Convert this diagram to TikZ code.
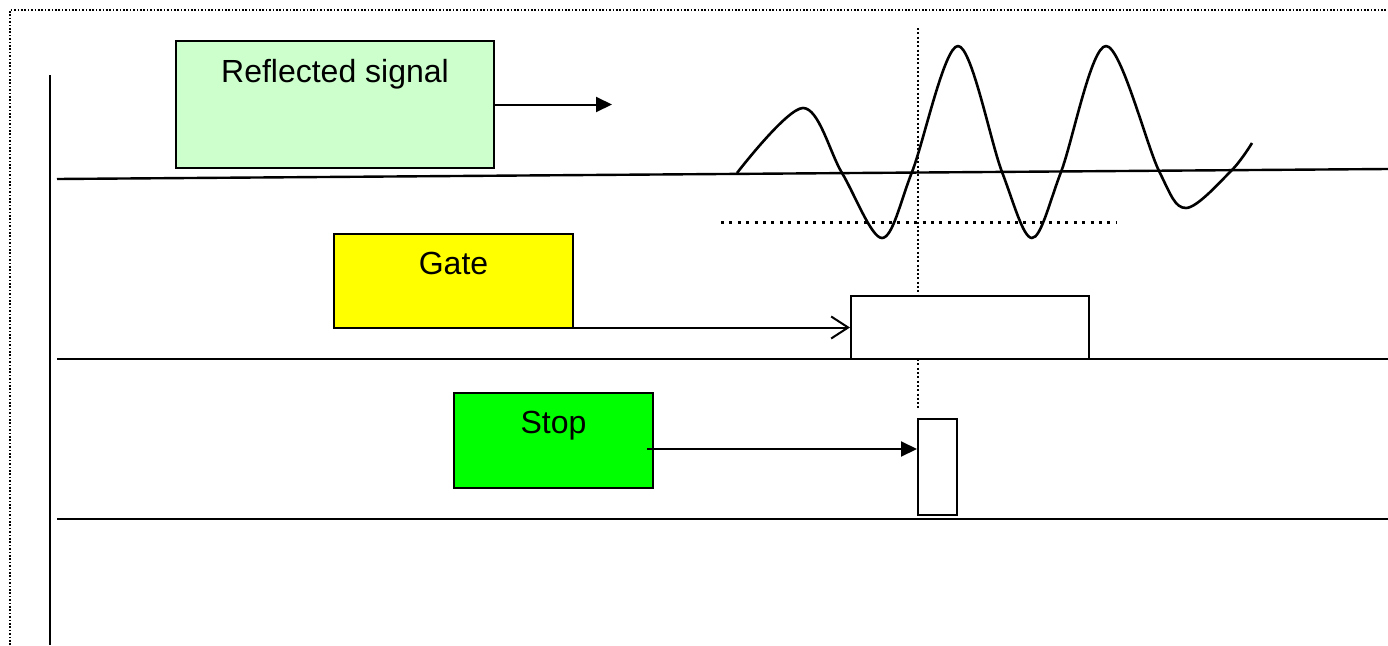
\documentclass[tikz,border=0pt]{standalone}
\usepackage{fontspec}
\setmainfont{Liberation Sans}
\usetikzlibrary{arrows.meta}
\definecolor{reflgreen}{HTML}{CCFFCC}
\definecolor{gateyellow}{HTML}{FFFF00}
\definecolor{stopgreen}{HTML}{00FF00}
\tikzset{
  block/.style  = {rectangle, draw, line width=2pt, inner xsep=0, inner ysep=0, text height=41pt, font=\fontsize{32}{38}\selectfont},
  pulse/.style  = {rectangle, draw, line width=2pt, fill=white, inner sep=0},
  axis/.style   = {line width=2.4pt},
  sig/.style    = {line width=2pt, -{Triangle[length=16pt, width=15pt]}},
  gsig/.style   = {line width=2pt, -{Straight Barb[length=17pt, width=22pt, line width=2pt]}},
  wave/.style   = {line width=2.6pt, line join=round},
  frame/.style  = {line width=1.6pt, dash pattern=on 1.6pt off 1.8pt},
  level/.style  = {line width=3pt, dash pattern=on 3pt off 5.4pt},
  marker/.style = {line width=2pt, dash pattern=on 2pt off 2.3pt}
}
\begin{document}
\begin{tikzpicture}[x=1pt, y=-1pt]
  \useasboundingbox (0,0) rectangle (1388,645);

  % ---------- frame and time axis ----------
  \draw[frame] (10,645) -- (10,10) -- (1388,10);
  \draw[axis] (50,75) -- (50,645);

  \coordinate (b1l) at (57,179);  \coordinate (b1r) at (1388,169);
  \coordinate (b2l) at (57,359);  \coordinate (b2r) at (1388,359);
  \coordinate (b3l) at (57,519);  \coordinate (b3r) at (1388,519);
  \draw[axis] (b1l) -- (b1r);
  \draw[axis] (b2l) -- (b2r);
  \draw[axis] (b3l) -- (b3r);

  % ---------- reflected signal ----------
  \node[block, fill=reflgreen, minimum width=318pt, text depth=86pt] (refl) at (335,104.5) {Reflected signal};
  \coordinate (reflend) at (612,104.5);
  \draw[sig] (refl.east) -- (reflend);

  \draw[wave] plot[smooth, tension=0.55] coordinates {
    (737,173) (803,108) (842,173) (882,238) (912,172) (958,46) (1002,172)
    (1032,238) (1061,172) (1106,46) (1159,171) (1186,208) (1231,171) (1252,143)};

  \coordinate (lvl1) at (721,222);  \coordinate (lvl2) at (1116,222);
  \draw[level] (lvl1) -- (lvl2);

  \coordinate (mtop) at (918,28);  \coordinate (mbot) at (918,408);
  \draw[marker] (mtop) -- (mbot);

  % ---------- gate ----------
  \node[block, fill=gateyellow, minimum width=239pt, text depth=53pt] (gate) at (453.5,280.5) {Gate};
  \node[pulse, minimum width=238pt, minimum height=63pt] (gatepulse) at (970,327.5) {};
  \draw[gsig] (gatepulse.west -| gate.east) -- (gatepulse.west);

  % ---------- stop ----------
  \node[block, fill=stopgreen, minimum width=199pt, text depth=54pt] (stop) at (553.5,440) {Stop};
  \node[pulse, minimum width=39pt, minimum height=96pt] (stoppulse) at (937.5,467) {};
  \coordinate (stopout) at (647,449);
  \draw[sig] (stopout) -- (stopout -| stoppulse.west);

\end{tikzpicture}
\end{document}
